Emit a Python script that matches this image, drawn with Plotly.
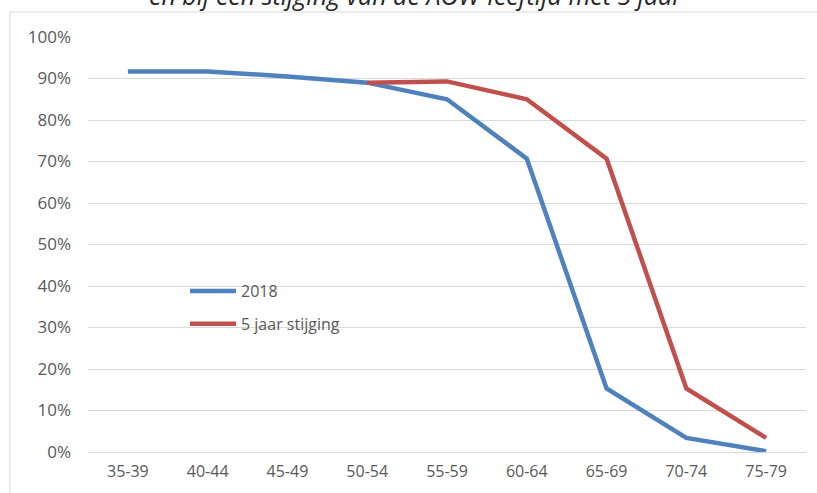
import plotly.graph_objects as go

categories = ["35-39", "40-44", "45-49", "50-54", "55-59", "60-64", "65-69", "70-74", "75-79"]
series_2018 = [0.917, 0.917, 0.905, 0.89, 0.85, 0.707, 0.153, 0.034, 0.002]
series_5jaar = [None, None, None, 0.89, 0.893, 0.85, 0.707, 0.153, 0.034]
title_text = "en bij een stijging van de AOW-leeftijd met 5 jaar"

W, H = 817, 493
L, R, T, B = 88, 11, 37, 41
pw, ph = W - L - R, H - T - B

fig = go.Figure()
fig.add_trace(go.Scatter(x=categories, y=series_2018, mode="lines", name="2018",
                         line=dict(color="#4F81BD", width=4.5), legendgroup="a"))
fig.add_trace(go.Scatter(x=categories, y=series_5jaar, mode="lines", name="5 jaar stijging",
                         line=dict(color="#C0504D", width=4.5), legendgroup="b"))

fig.update_layout(
    width=W, height=H,
    margin=dict(l=L, r=R, t=T, b=B, autoexpand=False),
    paper_bgcolor="white", plot_bgcolor="white",
    font=dict(family="Open Sans, sans-serif", color="#595959", size=16),
    showlegend=True,
    legend=dict(x=(185 - L) / pw, y=(452 - 274) / ph, xanchor="left", yanchor="top",
                bgcolor="rgba(0,0,0,0)", font=dict(size=16, color="#595959"),
                tracegroupgap=9, traceorder="grouped", itemwidth=46),
    xaxis=dict(type="category", showgrid=False, showline=False, zeroline=False,
               ticks="", tickfont=dict(size=16, color="#595959"),
               ticklabelstandoff=8, range=[-0.5, 8.5], fixedrange=True),
    yaxis=dict(range=[0, 1], dtick=0.1, tickformat=".0%", showgrid=True,
               gridcolor="#D9D9D9", gridwidth=1, zeroline=True, zerolinecolor="#D9D9D9",
               zerolinewidth=1, showline=False, ticks="", tickfont=dict(size=17, color="#595959"),
               ticklabelstandoff=16, fixedrange=True),
)

# chart border (partially visible, as in the reference)
bx0 = (10 - L) / pw
by1 = (H - B - 12) / ph
fig.add_shape(type="rect", xref="paper", yref="paper", x0=bx0, x1=1.2, y0=-0.3, y1=by1,
              line=dict(color="#D9D9D9", width=1), fillcolor="rgba(0,0,0,0)", layer="below")

# title, cropped at the top like the reference
fig.add_annotation(text="<i>" + title_text + "</i>", xref="paper", yref="paper",
                   x=(416 - L) / pw, y=(H - B - 14) / ph, xanchor="center", yanchor="bottom",
                   showarrow=False, font=dict(size=25, color="#262626", family="Open Sans, sans-serif"))

fig.write_html("out.html", config={"displayModeBar": False},
               post_script="document.body.style.margin='0';")
